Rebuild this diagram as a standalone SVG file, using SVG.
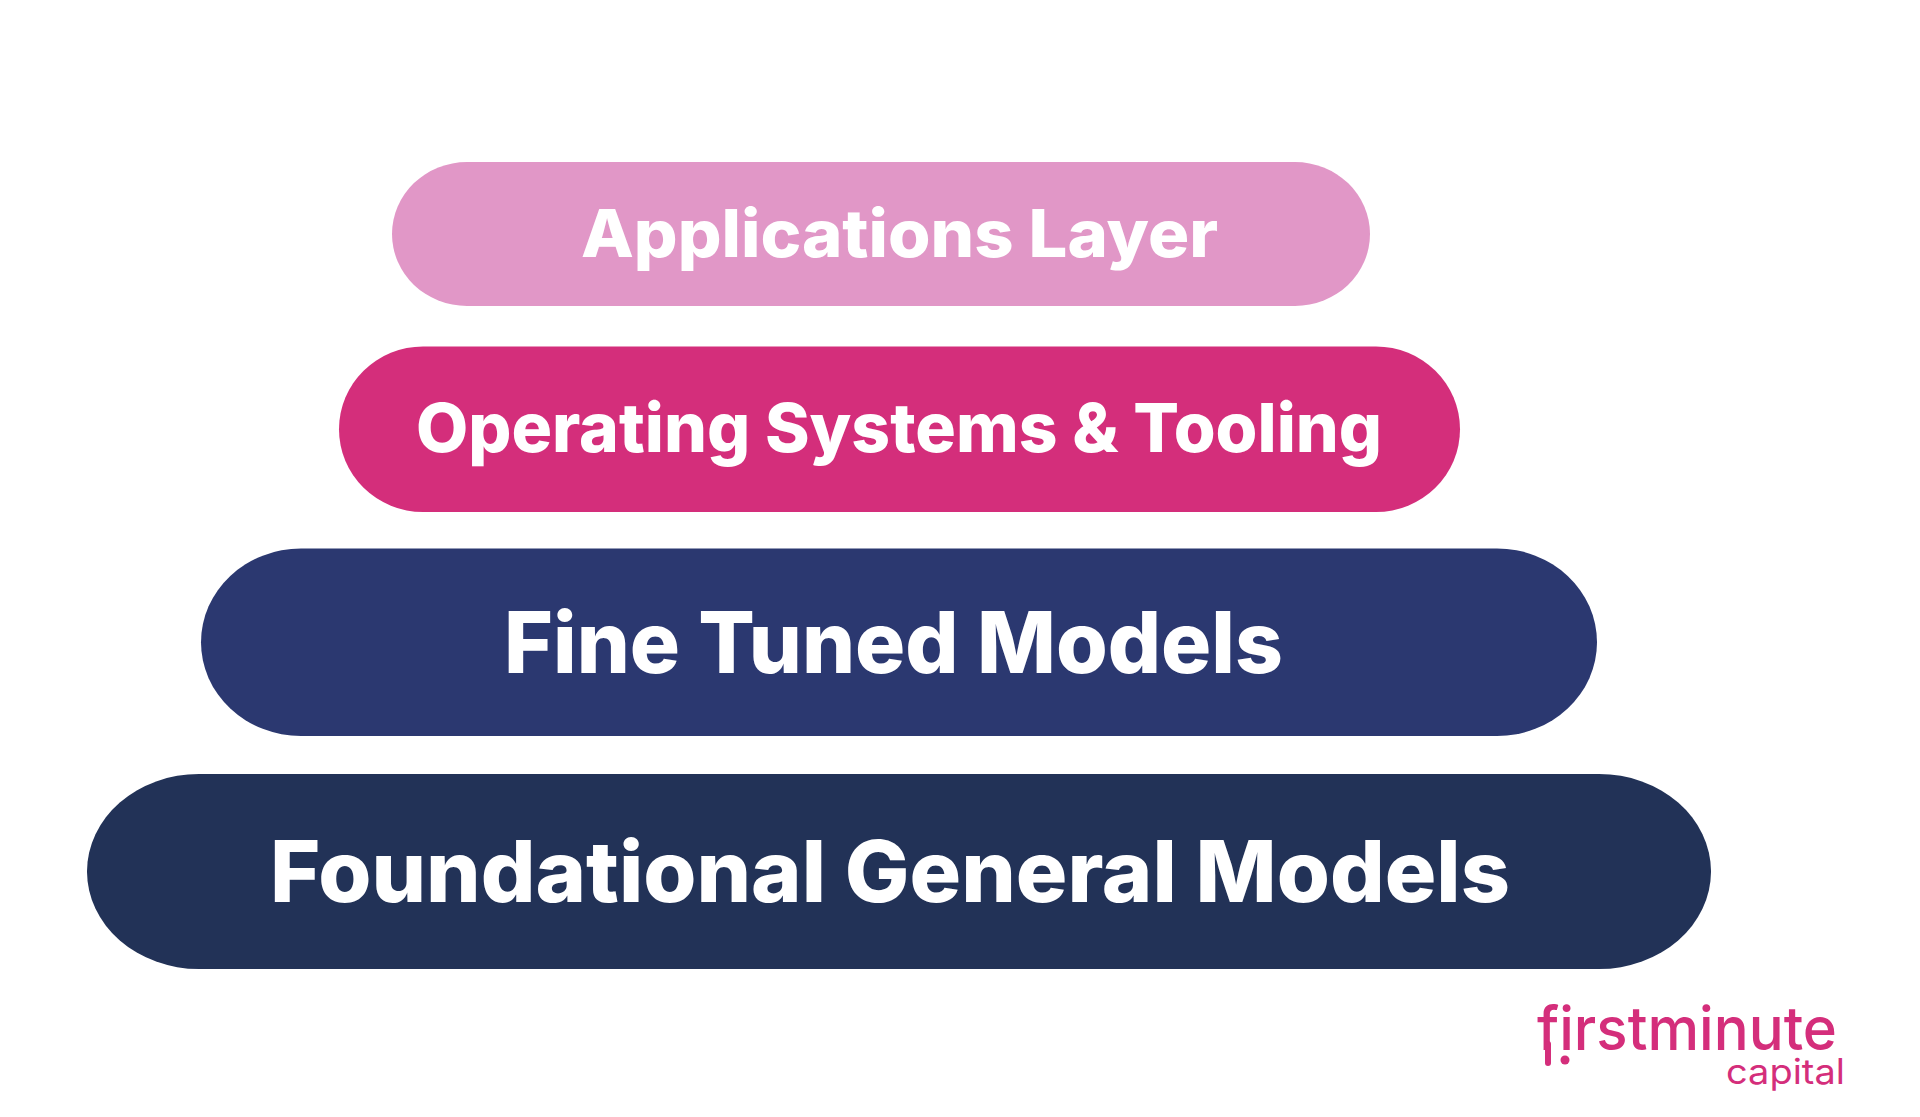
<svg xmlns="http://www.w3.org/2000/svg" width="1920" height="1117" viewBox="0 0 1920 1117">
<style>
.l{font-family:"Inter","Liberation Sans",sans-serif;font-weight:800;fill:#fff}
.m{font-family:"Inter","Liberation Sans",sans-serif;fill:#D42E7B}
</style>
<rect width="1920" height="1117" fill="#fff"/>
<g id="applications-layer">
<rect x="392" y="162" width="978" height="144" rx="75" ry="72" fill="#E197C7"/>
<text class="l" x="581" y="257" font-size="66" textLength="637" lengthAdjust="spacingAndGlyphs">Applications Layer</text>
</g>
<g id="operating-systems">
<rect x="339" y="346.500" width="1121" height="165.500" rx="84" ry="82.750" fill="#D42E7B"/>
<text class="l" x="416" y="452" font-size="68" textLength="966" lengthAdjust="spacingAndGlyphs">Operating Systems &amp; Tooling</text>
</g>
<g id="fine-tuned-models">
<rect x="201" y="548.500" width="1396" height="187.500" rx="100" ry="93.750" fill="#2B3870"/>
<text class="l" x="504" y="673" font-size="85" textLength="779" lengthAdjust="spacingAndGlyphs">Fine Tuned Models</text>
</g>
<g id="foundational-general-models">
<rect x="87" y="774" width="1624" height="195" rx="112" ry="97.500" fill="#223257"/>
<text class="l" x="270" y="902" font-size="85" textLength="1240" lengthAdjust="spacingAndGlyphs">Foundational General Models</text>
</g>
<g id="logo">
<text class="m" x="1537" y="1050" font-size="60" font-weight="500" textLength="300" lengthAdjust="spacingAndGlyphs">firstminute</text>
<text class="m" x="1726" y="1084" font-size="35" font-weight="400" textLength="119" lengthAdjust="spacingAndGlyphs">capital</text>
<line x1="1548" y1="1044" x2="1548" y2="1063" stroke="#D42E7B" stroke-width="6" stroke-linecap="round"/>
<circle cx="1565" cy="1060" r="4.500" fill="#D42E7B"/>
</g>
<g id="connectors"/>
</svg>
